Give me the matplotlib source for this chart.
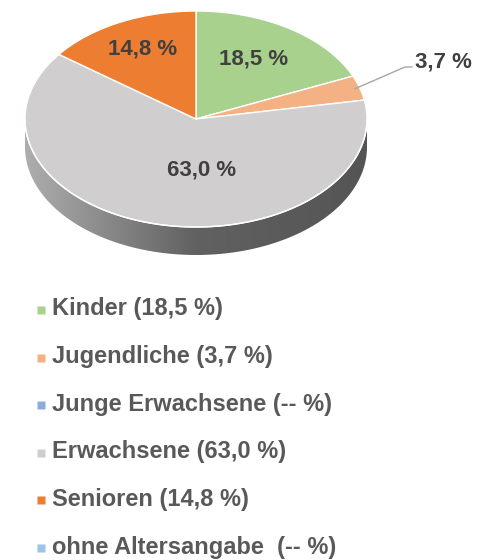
import numpy as np
import matplotlib.pyplot as plt
from matplotlib.patches import Polygon

# data
labels = ["Kinder", "Jugendliche", "Junge Erwachsene", "Erwachsene", "Senioren", "ohne Altersangabe"]
values = [18.5, 3.7, None, 63.0, 14.8, None]
colors = ["#A9D18E", "#F4B183", "#8FAADC", "#D0CECE", "#ED7D31", "#9DC3E6"]

plt.rcParams['font.family'] = ['Liberation Sans', 'DejaVu Sans']

fig = plt.figure(figsize=(4.87, 5.60), dpi=100)
ax = fig.add_axes([0, 0, 1, 1])
ax.axis('off')

# ellipse geometry (pixel-ish coords)
cx, cy, rx, ry, depth = 196, 119, 171, 108, 28

def pt(theta_deg, r=1.0, dz=0):
    t = np.radians(theta_deg)
    return cx + r * rx * np.cos(t), cy - r * ry * np.sin(t) + dz

# side of the pie (only lower half visible)
th = np.linspace(180, 360, 200)
top = np.array([pt(t) for t in th])
bot = np.array([pt(t, dz=depth) for t in th[::-1]])
side = Polygon(np.vstack([top, bot]), closed=True, facecolor='none', edgecolor='none')
ax.add_patch(side)
grad = np.interp(np.linspace(0, 1, 300), [0, 0.5, 1], [0.68, 0.38, 0.33])
img = ax.imshow(np.tile(grad, (10, 1)), cmap='gray', vmin=0, vmax=1, aspect='auto',
                extent=[cx - rx, cx + rx, cy + ry + depth + 2, cy - 5], zorder=1)
img.set_clip_path(side)
ax.plot(top[:, 0], top[:, 1], color='white', lw=1.0, zorder=3)
ax.set_xlim(0, 487)
ax.set_ylim(560, 0)

# top face wedges, start at 12 o'clock, clockwise
pie_vals = [(l, v, c) for l, v, c in zip(labels, values, colors) if v is not None]
total = sum(v for _, v, _ in pie_vals)
start = 90.0
mids = []
for l, v, c in pie_vals:
    span = v / total * 360
    a = np.linspace(start, start - span, max(int(span), 2) + 2)
    poly = [(cx, cy)] + [pt(t) for t in a]
    ax.add_patch(Polygon(poly, closed=True, facecolor=c, edgecolor='white', lw=1.0, zorder=2))
    mids.append(start - span / 2)
    start -= span

# (radius, angle shift) for each label; None -> outside with leader line
label_pos = [(0.65, 2), None, (0.47, 17), (0.72, -1)]
txt_kw = dict(fontsize=16, fontweight='bold', color='#404040', ha='center', va='center', zorder=5)
for (l, v, c), m, p in zip(pie_vals, mids, label_pos):
    s = f"{v:.1f} %".replace('.', ',')
    if p is not None:
        x, y = pt(m + p[1], p[0])
        ax.text(x, y, s, **txt_kw)
    else:
        x0, y0 = pt(m, 0.97)
        ax.plot([x0, 405, 412], [y0, 67, 67], color='#A6A6A6', lw=1.0, zorder=4)
        ax.text(443, 62, s, **txt_kw)

# legend
leg_y = 309
for l, v, c in zip(labels, values, colors):
    s = "--" if v is None else f"{v:.1f}".replace('.', ',')
    sep = "  " if l == "ohne Altersangabe" else " "
    ax.plot(41, leg_y + 1, marker='s', ms=6, color=c, mec='none', zorder=5)
    ax.text(52, leg_y, f"{l}{sep}({s} %)", fontsize=17, fontweight='bold', color='#595959',
            ha='left', va='center')
    leg_y += 47.6

fig.savefig('out.png', dpi=100)
